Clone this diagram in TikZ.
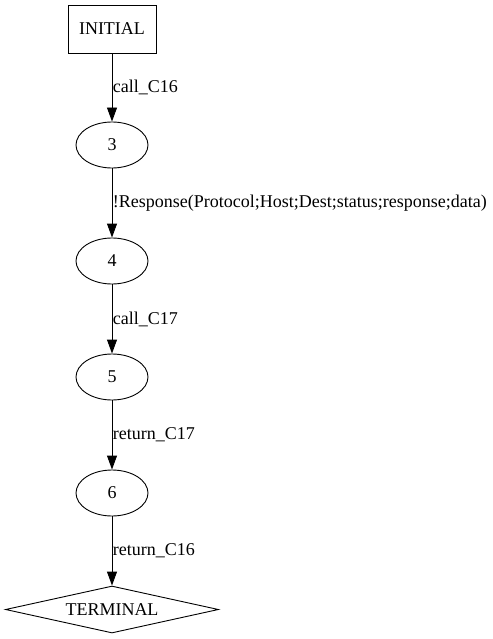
\documentclass[tikz,border=0pt]{standalone}
\usepackage{fontspec}
\setmainfont{Liberation Serif}
\usetikzlibrary{shapes.geometric,arrows.meta}
\begin{document}
\begin{tikzpicture}[x=1pt,y=-1pt,
  font=\fontsize{18}{21}\selectfont,
  every node/.style={line width=0.9pt},
  st/.style={draw, ellipse, minimum width=72pt, minimum height=46pt, inner sep=0pt},
  initbox/.style={draw, rectangle, minimum width=88pt, minimum height=48pt, inner sep=0pt},
  termbox/.style={draw, diamond, aspect=4.5, minimum width=213pt, minimum height=47pt, inner sep=0pt},
  conn/.style={-{Triangle[length=14pt,width=10pt]}, line width=0.9pt},
  lbl/.style={right, midway, inner sep=0pt, xshift=0.5pt}]
\useasboundingbox (0,0) rectangle (492,639);
\node[initbox] (i) at (112,29) {INITIAL};
\node[st] (s3) at (112,145) {3};
\node[st] (s4) at (112,261) {4};
\node[st] (s5) at (112,377) {5};
\node[st] (s6) at (112,493) {6};
\node[termbox] (t) at (112,609.5) {TERMINAL};
\draw[conn] (i) -- node[lbl]{call\_C16} (s3);
\draw[conn] (s3) -- node[lbl]{!Response(Protocol;Host;Dest;status;response;data)} (s4);
\draw[conn] (s4) -- node[lbl]{call\_C17} (s5);
\draw[conn] (s5) -- node[lbl]{return\_C17} (s6);
\draw[conn] (s6) -- node[lbl]{return\_C16} (t);
\end{tikzpicture}
\end{document}
